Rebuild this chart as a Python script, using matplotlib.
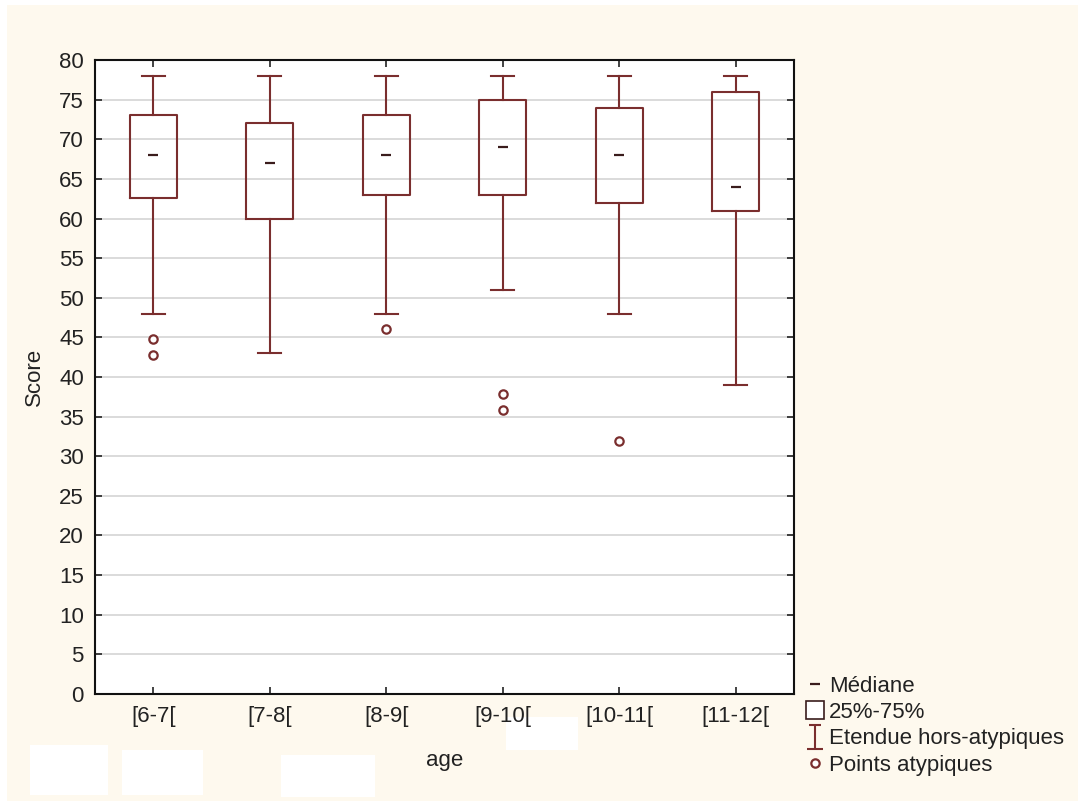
import matplotlib.pyplot as plt
import matplotlib.patches as mpatches
from matplotlib.lines import Line2D
from matplotlib.path import Path

plt.rcParams['font.family'] = ['Liberation Sans', 'DejaVu Sans']

# values
ages = ['[6-7[', '[7-8[', '[8-9[', '[9-10[', '[10-11[', '[11-12[']
whisk_hi = [78, 78, 78, 78, 78, 78]
q3 = [73, 72, 73, 75, 74, 76]
medians = [68, 67, 68, 69, 68, 64]
q1 = [62.6, 60, 63, 63, 62, 61]
whisk_lo = [48, 43, 48, 51, 48, 39]
outliers = [[44.8, 42.8], [], [46], [37.8, 35.8], [31.9], []]
yticks = list(range(0, 81, 5))

maroon = '#7a2e2e'
dark = '#3a1c1c'
cream = '#fef9ee'
txt = '#222222'
fs = 16

fig = plt.figure(figsize=(10.78, 8.09), dpi=100)
fig.patch.set_facecolor('white')
# cream panel behind everything
fig.patches.append(mpatches.Rectangle((7 / 1078, 0.01), 1, 1 - 5 / 809 - 0.01,
                                      transform=fig.transFigure, facecolor=cream,
                                      edgecolor='none', zorder=-10))

ax = fig.add_axes([0.0881, 0.1422, 0.6484, 0.7836])
ax.set_facecolor('white')

stats = []
for i in range(len(ages)):
    stats.append({'whislo': whisk_lo[i], 'q1': q1[i], 'med': medians[i],
                  'q3': q3[i], 'whishi': whisk_hi[i], 'fliers': outliers[i]})

pos = [i + 0.5 for i in range(len(ages))]
ax.bxp(stats, positions=pos, widths=0.4, capwidths=0.2, patch_artist=False,
       boxprops=dict(color=maroon, linewidth=1.5),
       whiskerprops=dict(color=maroon, linewidth=1.5),
       capprops=dict(color=maroon, linewidth=1.5),
       medianprops=dict(visible=False),
       flierprops=dict(marker='o', markerfacecolor='white', markeredgecolor=maroon,
                       markersize=6, markeredgewidth=1.6, linestyle='none'),
       zorder=3)
ax.plot(pos, medians, linestyle='none', marker='_', markersize=7,
        markeredgewidth=1.6, color=dark, zorder=4)

ax.set_xlim(0, len(ages))
ax.set_ylim(0, 80)
ax.set_yticks(yticks)
ax.set_xticks(pos)
ax.set_xticklabels(ages)
ax.yaxis.grid(True, color='#d4d4d4', linewidth=1.2)
ax.set_axisbelow(True)
ax.tick_params(direction='in', top=True, right=True, length=5, width=1.2,
               labelsize=fs, colors='#222222', pad=8)
ax.tick_params(axis='x', pad=9)
for s in ax.spines.values():
    s.set_linewidth(1.5)
    s.set_color('#111111')

ax.set_xlabel('age', fontsize=fs, color=txt, labelpad=16)
ax.set_ylabel('Score', fontsize=fs, color=txt, labelpad=10)

# whisker legend symbol
whisk_path = Path([(-0.5, 1), (0.5, 1), (0, 1), (0, -1), (-0.7, -1), (0.7, -1)],
                  [Path.MOVETO, Path.LINETO, Path.MOVETO, Path.LINETO, Path.MOVETO, Path.LINETO])

handles = [
    Line2D([], [], linestyle='none', marker='_', markersize=7, markeredgewidth=1.6,
           color=dark, label='Médiane'),
    Line2D([], [], linestyle='none', marker='s', markersize=13, markerfacecolor='white',
           markeredgecolor=dark, markeredgewidth=1.2, label='25%-75%'),
    Line2D([], [], linestyle='none', marker=whisk_path, markersize=17, markeredgewidth=1.5,
           color=maroon, markerfacecolor='none', label='Etendue hors-atypiques'),
    Line2D([], [], linestyle='none', marker='o', markersize=6, markeredgewidth=1.6,
           markerfacecolor='white', markeredgecolor=maroon, label='Points atypiques'),
]
fig.legend(handles=handles, loc='upper left', bbox_to_anchor=(0.732, 0.184),
           frameon=False, fontsize=fs, handlelength=0.9, handletextpad=0.2,
           labelspacing=0.24, borderpad=0.2, labelcolor=txt)

# white blocks in the lower left of the picture (behind the text)
for (x0, y0, x1, y1) in [(30, 745, 108, 795), (122, 750, 203, 795),
                         (281, 755, 375, 797), (506, 717, 578, 750)]:
    fig.patches.append(mpatches.Rectangle((x0 / 1078, 1 - y1 / 809), (x1 - x0) / 1078,
                                          (y1 - y0) / 809, transform=fig.transFigure,
                                          facecolor='white', edgecolor='none', zorder=-5))

fig.savefig('out.png', dpi=100, facecolor=fig.get_facecolor())
